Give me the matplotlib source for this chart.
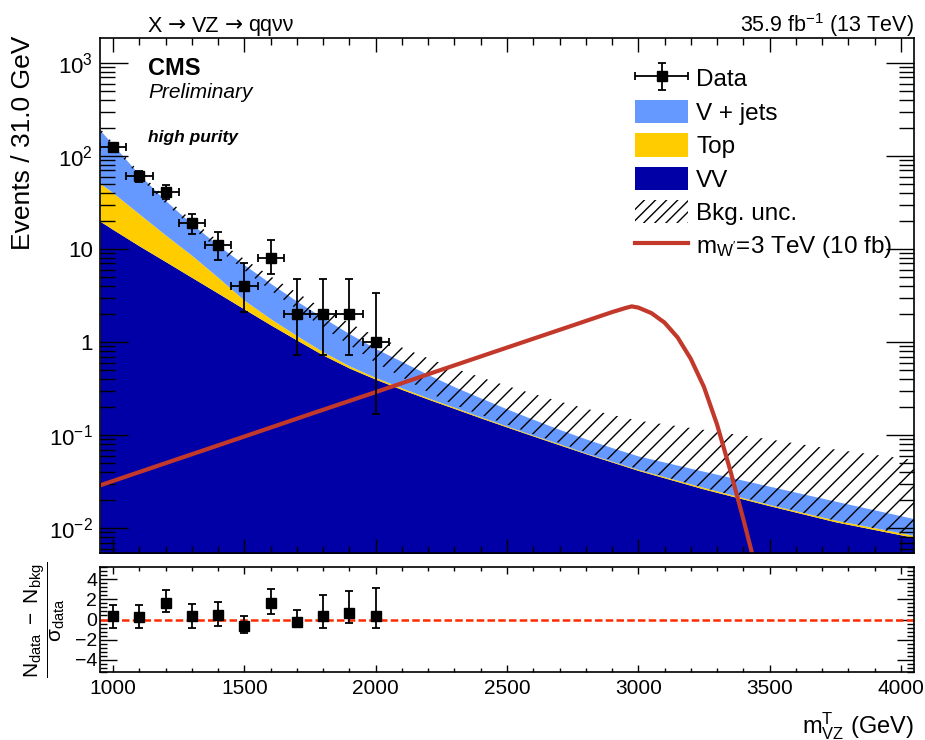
import matplotlib
matplotlib.use("Agg")
import matplotlib.pyplot as plt
from matplotlib.lines import Line2D
from matplotlib.patches import Patch
from matplotlib.legend_handler import HandlerErrorbar
from matplotlib.offsetbox import TextArea, HPacker, AnchoredOffsetbox
from matplotlib.ticker import FixedLocator, FixedFormatter, LogLocator, MultipleLocator, NullFormatter
import numpy as np

plt.rcParams["font.family"] = ["Liberation Sans", "DejaVu Sans"]
plt.rcParams["mathtext.fontset"] = "custom"
plt.rcParams["mathtext.rm"] = "Liberation Sans"
plt.rcParams["mathtext.it"] = "Liberation Sans:italic"
plt.rcParams["mathtext.bf"] = "Liberation Sans:bold"
plt.rcParams["mathtext.sf"] = "Liberation Sans"
plt.rcParams["mathtext.default"] = "regular"
plt.rcParams["hatch.linewidth"] = 1.0

# observed events
data_mass = [1000, 1100, 1200, 1300, 1400, 1500, 1600, 1700, 1800, 1900, 2000]
n_data = [124, 61, 41, 19, 11, 4, 8, 2, 2, 2, 1]
data_err_lo = [11, 7.8, 6.5, 4.4, 3.3, 1.9, 2.6, 1.28, 1.28, 1.28, 0.83]
data_err_hi = [11, 8.8, 8, 5, 4.3, 3.1, 4.5, 2.75, 2.75, 2.75, 2.39]

# background expectation per process
bkg_mass = [950, 1000, 1100, 1200, 1300, 1400, 1500, 1600, 1700, 1800, 1900, 2000, 2100,
            2200, 2300, 2400, 2500, 2600, 2700, 2800, 2900, 3000, 3250, 3500, 3750, 4050]
vv = [19.95, 16.2, 10.8, 7.33, 4.95, 3.35, 2.26, 1.53, 1.05, 0.724, 0.525, 0.398, 0.309,
      0.243, 0.193, 0.153, 0.122, 0.0977, 0.0785, 0.0631, 0.0513, 0.0417, 0.0263, 0.0174,
      0.0117, 0.00794]
top = [31, 24, 13, 6.8, 3.6, 1.6, 0.55, 0.25, 0.12, 0.06, 0.03, 0.018, 0.012,
       0.008, 0.006, 0.004, 0.003, 0.002, 0.002, 0.001, 0.001, 0.001, 0.001, 0.0005,
       0.0005, 0.0004]
vjets = [139.5, 91.6, 39.3, 19.0, 10.05, 6.05, 3.95, 2.49, 1.58, 1.04, 0.675, 0.435, 0.296,
         0.196, 0.132, 0.094, 0.066, 0.048, 0.0345, 0.027, 0.021, 0.017, 0.0135, 0.0103,
         0.0073, 0.0043]
bkg_unc_hi = [198, 138, 66.9, 35.7, 20.5, 12.3, 7.8, 5.1, 3.4, 2.3, 1.6, 1.16, 0.876,
              0.67, 0.523, 0.419, 0.338, 0.278, 0.23, 0.193, 0.165, 0.143, 0.114, 0.090,
              0.070, 0.054]
bkg_unc_lo = [183, 126, 59.5, 30.8, 17.0, 9.9, 5.9, 3.6, 2.25, 1.43, 0.93, 0.60, 0.42,
              0.29, 0.21, 0.165, 0.13, 0.102, 0.082, 0.066, 0.053, 0.043, 0.027, 0.018,
              0.012, 0.0082]

# W' signal, m = 3 TeV
sig_mass = [950, 1250, 1500, 1750, 2000, 2250, 2500, 2750, 2900, 2950, 2975, 3000, 3050,
            3100, 3150, 3200, 3250, 3300, 3350, 3400, 3450]
sig = [0.0288, 0.0558, 0.0966, 0.168, 0.290, 0.504, 0.873, 1.51, 2.10, 2.32, 2.42, 2.35,
       2.05, 1.62, 1.12, 0.66, 0.33, 0.13, 0.042, 0.0125, 0.0035]

# pulls for the lower panel
pull = [0.3, 0.25, 1.65, 0.35, 0.4, -0.6, 1.6, -0.2, 0.35, 0.65, 0.3]
pull_err_up = [1.1, 1.15, 1.25, 1.22, 1.37, 0.97, 1.47, 1.1, 2.12, 2.15, 2.83]
pull_err_down = [1.13, 1.08, 0.92, 1.18, 1.07, 0.73, 1.1, 0.4, 1.18, 0.98, 1.13]

C_VV = "#0000a6"
C_TOP = "#ffcc00"
C_VJETS = "#6699ff"
C_SIG = "#c2382a"


def draw_title(fig) -> None:
    # arrows come from DejaVu, the rest stays in Liberation Sans
    parts = [("X", "Liberation Sans"), ("\u2192", "DejaVu Sans"), ("VZ", "Liberation Sans"),
             ("\u2192", "DejaVu Sans"), ("qq\u03bd\u03bd", "Liberation Sans")]
    boxes = [TextArea(t, textprops=dict(fontsize=15.5, family=f)) for t, f in parts]
    pack = HPacker(children=boxes, align="baseline", pad=0, sep=4)
    box = AnchoredOffsetbox(loc="lower left", child=pack, pad=0, borderpad=0, frameon=False,
                            bbox_to_anchor=(148 / 925, 1 - 36.5 / 740),
                            bbox_transform=fig.transFigure)
    fig.add_artist(box)


def main() -> None:
    fig = plt.figure(figsize=(9.25, 7.4), dpi=100)
    ax = fig.add_axes([100 / 925, 1 - 553 / 740, 814 / 925, 515 / 740])
    rax = fig.add_axes([100 / 925, 1 - 672 / 740, 814 / 925, 105 / 740], sharex=ax)

    x = np.array(bkg_mass, dtype=float)
    s_vv = np.array(vv)
    s_top = s_vv + np.array(top)
    s_all = s_top + np.array(vjets)
    floor = 1e-5

    ax.fill_between(x, floor, s_vv, color=C_VV, lw=0)
    ax.fill_between(x, s_vv, s_top, color=C_TOP, lw=0)
    ax.fill_between(x, s_top, s_all, color=C_VJETS, lw=0)
    ax.fill_between(x, bkg_unc_lo, bkg_unc_hi, facecolor="none", edgecolor="black",
                    hatch="//", lw=0)

    ax.plot(sig_mass, sig, color=C_SIG, lw=3)

    h_data = ax.errorbar(data_mass, n_data, yerr=[data_err_lo, data_err_hi], xerr=50,
                         fmt="s", color="black", ms=7, lw=1.3, capsize=3, capthick=1.3)

    ax.set_yscale("log")
    ax.set_xlim(950, 4050)
    ax.set_ylim(5.4e-3, 1.86e3)

    ax.yaxis.set_major_locator(FixedLocator([1e-2, 1e-1, 1, 10, 100, 1000]))
    ax.yaxis.set_major_formatter(FixedFormatter(
        ["$10^{-2}$", "$10^{-1}$", "1", "10", "$10^{2}$", "$10^{3}$"]))
    ax.yaxis.set_minor_locator(LogLocator(base=10, subs=np.arange(2, 10)))
    ax.yaxis.set_minor_formatter(NullFormatter())
    ax.xaxis.set_major_locator(MultipleLocator(500))
    ax.xaxis.set_minor_locator(MultipleLocator(100))

    ax.tick_params(which="both", direction="in", top=True, right=True, labelbottom=False)
    ax.tick_params(axis="x", which="major", length=10, width=1)
    ax.tick_params(axis="x", which="minor", length=5, width=1)
    ax.tick_params(axis="y", which="major", length=20, width=1, labelsize=16, pad=5)
    ax.tick_params(axis="y", which="minor", length=11, width=1)

    # lower panel
    rax.axhline(0, color="#ff2a00", lw=1.8, dashes=(3, 1.3))
    rax.errorbar(data_mass, pull, yerr=[pull_err_down, pull_err_up], fmt="s", color="black",
                 ms=7, lw=1.3, capsize=3, capthick=1.3)
    rax.set_ylim(-5.2, 5.2)
    rax.yaxis.set_major_locator(FixedLocator([-4, -2, 0, 2, 4]))
    rax.yaxis.set_minor_locator(MultipleLocator(0.4))
    rax.xaxis.set_major_locator(MultipleLocator(500))
    rax.xaxis.set_minor_locator(MultipleLocator(100))
    rax.tick_params(which="both", direction="in", top=True, right=True)
    rax.tick_params(axis="x", which="major", length=5, width=1, labelsize=15, pad=5)
    rax.tick_params(axis="x", which="minor", length=3, width=1)
    rax.tick_params(axis="y", which="major", length=12, width=1, labelsize=14, pad=2)
    rax.tick_params(axis="y", which="minor", length=5, width=1)

    for a in (ax, rax):
        for sp in a.spines.values():
            sp.set_linewidth(1.2)

    # axis titles
    fig.text(23 / 925, 1 - 36 / 740, "Events / 31.0 GeV", rotation=90, ha="center",
             va="top", fontsize=19)
    fig.text(45 / 925, 1 - 620 / 740,
             r"$\dfrac{N_{data}\ -\ N_{bkg}}{\sigma_{data}}$", rotation=90,
             ha="center", va="center", fontsize=15)
    fig.text(914 / 925, 1 - 733 / 740, r"m$^{T}_{VZ}$ (GeV)", ha="right",
             va="baseline", fontsize=17)

    # header and labels
    draw_title(fig)
    fig.text(914 / 925, 1 - 32 / 740, r"35.9 fb$^{-1}$ (13 TeV)", ha="right",
             va="baseline", fontsize=15.5)
    fig.text(148 / 925, 1 - 75 / 740, "CMS", ha="left", va="baseline", fontsize=17,
             fontweight="bold")
    fig.text(148 / 925, 1 - 98 / 740, "Preliminary", ha="left", va="baseline",
             fontsize=15, fontstyle="italic")
    fig.text(148 / 925, 1 - 142 / 740, "high purity", ha="left", va="baseline",
             fontsize=12.5, fontweight="bold", fontstyle="italic")

    handles = [
        h_data,
        Patch(facecolor=C_VJETS, lw=0),
        Patch(facecolor=C_TOP, lw=0),
        Patch(facecolor=C_VV, lw=0),
        Patch(facecolor="none", edgecolor="black", hatch="///", lw=0),
        Line2D([], [], color=C_SIG, lw=3),
    ]
    labels = ["Data", "V + jets", "Top", "VV", "Bkg. unc.", r"m$_{W'}$=3 TeV (10 fb)"]
    ax.legend(handles, labels, loc="upper left", bbox_to_anchor=(0.657, 0.945),
              frameon=False, fontsize=17.5, handlelength=2.2, handleheight=1.1,
              handletextpad=0.32, labelspacing=0.35, borderpad=0, borderaxespad=0,
              handler_map={type(h_data): HandlerErrorbar(xerr_size=1.1, yerr_size=0.55)})

    fig.savefig("out.png", dpi=100)


if __name__ == "__main__":
    main()
